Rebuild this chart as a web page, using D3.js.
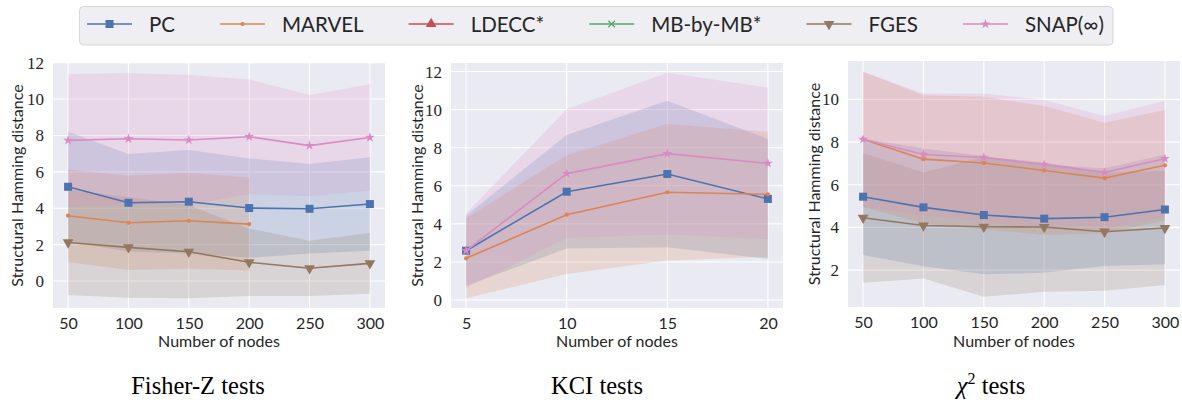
<!DOCTYPE html>
<html>
<head>
<meta charset="utf-8">
<script src="https://cdn.jsdelivr.net/npm/d3@7"></script>
<style>
  body { margin: 0; background: #ffffff; }
  svg { display: block; }
</style>
</head>
<body>
<svg id="chart" width="1182" height="403"></svg>
<script>
// ---------------- DATA ----------------
const methods = ["PC", "MARVEL", "LDECC*", "MB-by-MB*", "FGES", "SNAP(\u221E)"];
const colors  = ["#4C72B0", "#DD8452", "#C44E52", "#55A868", "#937860", "#DA8BC3"];

// Fisher-Z tests
const nodesFZ    = [50, 100, 150, 200, 250, 300];
const pcFZ       = [5.18, 4.30, 4.36, 4.01, 3.97, 4.23];
const pcFZStd    = [3.02, 2.68, 2.84, 2.73, 2.46, 2.57];
const marvelFZ   = [3.59, 3.20, 3.31, 3.13];
const marvelFZStd= [2.54, 2.59, 2.64, 2.55];
const fgesFZ     = [2.12, 1.85, 1.61, 1.03, 0.70, 0.97];
const fgesFZStd  = [2.89, 2.77, 2.56, 1.85, 1.52, 1.67];
const snapFZ     = [7.73, 7.82, 7.75, 7.93, 7.44, 7.89];
const snapFZStd  = [3.64, 3.61, 3.57, 3.15, 2.78, 2.92];

// KCI tests
const nodesKCI     = [5, 10, 15, 20];
const pcKCI        = [2.59, 5.69, 6.62, 5.31];
const pcKCIStd     = [1.84, 2.98, 3.85, 3.15];
const marvelKCI    = [2.19, 4.48, 5.66, 5.55];
const marvelKCIStd = [2.10, 3.12, 3.59, 3.29];
const snapKCI      = [2.59, 6.64, 7.69, 7.18];
const snapKCIStd   = [1.96, 3.38, 4.25, 3.98];

// chi-square tests
const nodesChi     = [50, 100, 150, 200, 250, 300];
const pcChi        = [5.44, 4.94, 4.58, 4.41, 4.48, 4.84];
const pcChiStd     = [2.73, 2.76, 2.77, 2.54, 2.29, 2.57];
const marvelChi    = [8.13, 7.20, 7.02, 6.67, 6.31, 6.91];
const marvelChiStd = [3.17, 3.00, 3.11, 3.02, 2.59, 2.59];
const fgesChi      = [4.45, 4.09, 4.03, 4.02, 3.80, 3.97];
const fgesChiStd   = [3.04, 2.48, 3.28, 3.04, 2.77, 2.67];
const snapChi      = [8.13, 7.42, 7.28, 6.95, 6.58, 7.22];
const snapChiStd   = [3.17, 2.86, 3.00, 3.02, 2.64, 2.72];

// tick labels
const xTicksFZ  = [50, 100, 150, 200, 250, 300];
const yTicksFZ  = [0, 2, 4, 6, 8, 10, 12];
const xTicksKCI = [5, 10, 15, 20];
const yTicksKCI = [0, 2, 4, 6, 8, 10, 12];
const xTicksChi = [50, 100, 150, 200, 250, 300];
const yTicksChi = [2, 4, 6, 8, 10];

const titles = ["Fisher-Z tests", "KCI tests", "chi2"];
const xLabel = "Number of nodes";
const yLabel = "Structural Hamming distance";

// ---------------- LAYOUT ----------------
const svg = d3.select("#chart");
const SANS = "Lato, 'Open Sans', sans-serif";
const SERIF = "'Liberation Serif', 'DejaVu Serif', serif";

const panels = [
  { rect: {l: 53, r: 385, t: 63, b: 308}, xDom: [37.5, 312.5], yDom: [-1.48, 11.98],
    xTicks: xTicksFZ, yTicks: yTicksFZ, yLabX: 16, titleX: 198,
    series: [
      {m: 0, x: nodesFZ, y: pcFZ, s: pcFZStd},
      {m: 1, x: nodesFZ.slice(0, marvelFZ.length), y: marvelFZ, s: marvelFZStd},
      {m: 4, x: nodesFZ, y: fgesFZ, s: fgesFZStd},
      {m: 5, x: nodesFZ, y: snapFZ, s: snapFZStd}
    ]},
  { rect: {l: 451, r: 783, t: 63, b: 308}, xDom: [4.25, 20.75], yDom: [-0.42, 12.45],
    xTicks: xTicksKCI, yTicks: yTicksKCI, yLabX: 416, titleX: 597,
    series: [
      {m: 0, x: nodesKCI, y: pcKCI, s: pcKCIStd},
      {m: 1, x: nodesKCI, y: marvelKCI, s: marvelKCIStd},
      {m: 5, x: nodesKCI, y: snapKCI, s: snapKCIStd}
    ]},
  { rect: {l: 848, r: 1180, t: 61, b: 307}, xDom: [37.5, 312.5], yDom: [0.27, 11.8],
    xTicks: xTicksChi, yTicks: yTicksChi, yLabX: 813, titleX: 991,
    series: [
      {m: 0, x: nodesChi, y: pcChi, s: pcChiStd},
      {m: 1, x: nodesChi, y: marvelChi, s: marvelChiStd},
      {m: 4, x: nodesChi, y: fgesChi, s: fgesChiStd},
      {m: 5, x: nodesChi, y: snapChi, s: snapChiStd}
    ]}
];

function markerPath(m) {
  switch (m) {
    case 0: return d3.symbol(d3.symbolSquare, 64)();
    case 1: return d3.symbol(d3.symbolCircle, 14)();
    case 2: return d3.symbol(d3.symbolTriangle, 50)();
    case 3: return d3.symbol(d3.symbolTimes, 30)();
    case 4: return d3.symbol(d3.symbolTriangle, 50)();
    case 5: return d3.symbol(d3.symbolStar, 30)();
  }
}
function drawMarker(g, m, x, y) {
  const p = g.append("path").attr("d", markerPath(m))
    .attr("transform", `translate(${x},${y})` + (m === 4 ? " rotate(180)" : ""));
  if (m === 3) p.attr("fill", "none").attr("stroke", colors[m]).attr("stroke-width", 1.2);
  else p.attr("fill", colors[m]);
  return p;
}

panels.forEach((P, pi) => {
  const R = P.rect;
  const x = d3.scaleLinear().domain(P.xDom).range([R.l, R.r]);
  const y = d3.scaleLinear().domain(P.yDom).range([R.b, R.t]);
  const g = svg.append("g");

  g.append("rect").attr("x", R.l).attr("y", R.t)
    .attr("width", R.r - R.l).attr("height", R.b - R.t).attr("fill", "#EAEAF2");

  // grid
  g.selectAll(".gx").data(P.xTicks).enter().append("line")
    .attr("x1", d => x(d)).attr("x2", d => x(d)).attr("y1", R.t).attr("y2", R.b)
    .attr("stroke", "#ffffff").attr("stroke-width", 1.1);
  g.selectAll(".gy").data(P.yTicks).enter().append("line")
    .attr("y1", d => y(d)).attr("y2", d => y(d)).attr("x1", R.l).attr("x2", R.r)
    .attr("stroke", "#ffffff").attr("stroke-width", 1.1);

  // axes (tick labels only)
  const xa = d3.axisBottom(x).tickValues(P.xTicks).tickSize(0).tickPadding(10).tickFormat(d3.format("d"));
  const xg = g.append("g").attr("transform", `translate(0,${R.b})`).call(xa);
  xg.select(".domain").remove();
  xg.selectAll("text").attr("font-family", SANS).attr("font-size", 16).attr("fill", "#262626");

  const ya = d3.axisLeft(y).tickValues(P.yTicks).tickSize(0).tickPadding(9).tickFormat(d3.format("d"));
  const yg = g.append("g").attr("transform", `translate(${R.l},0)`).call(ya);
  yg.select(".domain").remove();
  yg.selectAll("text").attr("font-family", SERIF).attr("font-size", 17).attr("fill", "#262626");

  // labels
  g.append("text").attr("x", (R.l + R.r) / 2).attr("y", 347)
    .attr("text-anchor", "middle").attr("font-family", SANS).attr("font-size", 16)
    .attr("fill", "#262626").text(xLabel);
  g.append("text").attr("transform", `translate(${P.yLabX},${(R.t + R.b) / 2}) rotate(-90)`)
    .attr("text-anchor", "middle").attr("dominant-baseline", "central")
    .attr("font-family", SANS).attr("font-size", 16).attr("fill", "#262626").text(yLabel);

  // bands
  const clipId = "clip" + pi;
  svg.append("clipPath").attr("id", clipId).append("rect")
    .attr("x", R.l).attr("y", R.t).attr("width", R.r - R.l).attr("height", R.b - R.t);
  const body = g.append("g").attr("clip-path", `url(#${clipId})`);
  P.series.forEach(S => {
    const pts = S.x.map((xv, i) => ({x: xv, y: S.y[i], s: S.s[i]}));
    const area = d3.area().x(d => x(d.x)).y0(d => y(d.y - d.s)).y1(d => y(d.y + d.s));
    body.append("path").datum(pts).attr("d", area)
      .attr("fill", colors[S.m]).attr("fill-opacity", 0.2);
  });
  P.series.forEach(S => {
    const pts = S.x.map((xv, i) => ({x: xv, y: S.y[i]}));
    const line = d3.line().x(d => x(d.x)).y(d => y(d.y));
    body.append("path").datum(pts).attr("d", line)
      .attr("fill", "none").attr("stroke", colors[S.m]).attr("stroke-width", 1.6);
    pts.forEach(d => drawMarker(body, S.m, x(d.x), y(d.y)));
  });

  // title
  const t = svg.append("text").attr("x", P.titleX).attr("y", 394)
    .attr("text-anchor", "middle").attr("font-family", SERIF).attr("font-size", 24.5)
    .attr("fill", "#000");
  if (titles[pi] === "chi2") {
    t.append("tspan").attr("font-style", "italic").text("\u03C7");
    t.append("tspan").attr("font-size", 16).attr("dy", -10).text("2");
    t.append("tspan").attr("dy", 10).text(" tests");
  } else {
    t.text(titles[pi]);
  }
});

// ---------------- LEGEND ----------------
const leg = svg.append("g");
const legBox = leg.append("rect").attr("x", 79.5).attr("y", 6.5).attr("height", 38.5)
  .attr("rx", 4).attr("fill", "#EEEEF3").attr("stroke", "#D6D6D6").attr("stroke-width", 1);
let cx = 87;
const ly = 24;
methods.forEach((name, i) => {
  leg.append("line").attr("x1", cx).attr("x2", cx + 45).attr("y1", ly).attr("y2", ly)
    .attr("stroke", colors[i]).attr("stroke-width", 1.6);
  drawMarker(leg, i, cx + 22.5, ly);
  const tx = leg.append("text").attr("x", cx + 62).attr("y", ly).attr("dominant-baseline", "central")
    .attr("font-family", SANS).attr("font-size", 20.5).attr("fill", "#262626").text(name);
  const w = tx.node().getComputedTextLength();
  cx = cx + 62 + w + 45;
});
legBox.attr("width", cx - 45 + 9 - 79.5);
</script>
</body>
</html>
